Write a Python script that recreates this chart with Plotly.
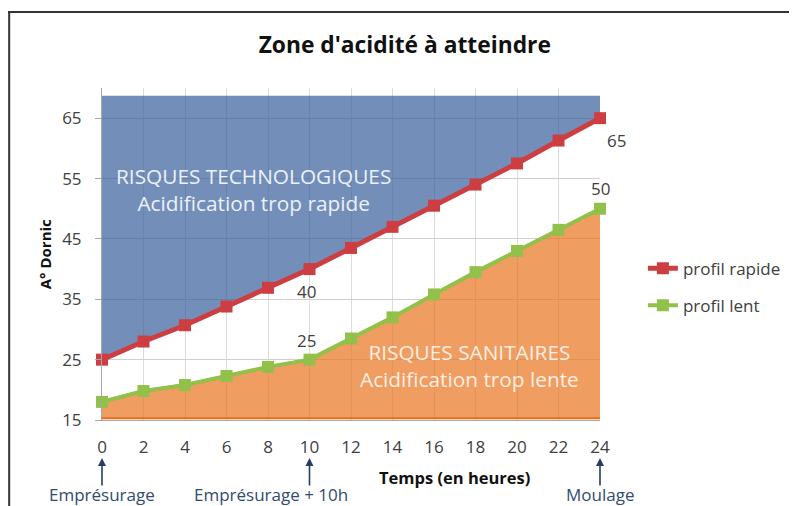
import plotly.graph_objects as go

# ---- data ----
heures = [0, 2, 4, 6, 8, 10, 12, 14, 16, 18, 20, 22, 24]
profil_rapide = [25, 28, 30.7, 33.8, 36.9, 40, 43.5, 47, 50.5, 54, 57.5, 61.3, 65]
profil_lent = [18, 19.8, 20.8, 22.3, 23.8, 25, 28.5, 32, 35.8, 39.5, 43, 46.5, 50]
zone_haut = [68.7] * 13
zone_bas = [15.3] * 13
y_ticks = [15, 25, 35, 45, 55, 65]
x_ticks = heures
reperes = [(0, "Emprésurage"), (10, "Emprésurage + 10h"), (24, "Moulage")]

FONT = "Open Sans"
RED = "rgb(205,62,66)"
GREEN = "rgb(145,192,75)"
NAVY = "rgb(40,60,100)"

fig = go.Figure()

# blue zone (risques technologiques)
fig.add_trace(go.Scatter(x=heures, y=profil_rapide, mode="lines", line=dict(width=0),
                         showlegend=False, hoverinfo="skip"))
fig.add_trace(go.Scatter(x=heures, y=zone_haut, mode="lines", line=dict(width=0),
                         fill="tonexty", fillcolor="rgba(55,95,155,0.7)",
                         showlegend=False, hoverinfo="skip"))
# orange zone (risques sanitaires)
fig.add_trace(go.Scatter(x=heures, y=zone_bas, mode="lines",
                         line=dict(width=2, color="rgb(228,110,20)"),
                         showlegend=False, hoverinfo="skip"))
fig.add_trace(go.Scatter(x=heures, y=profil_lent, mode="lines",
                         line=dict(width=3, color="rgb(228,110,20)"),
                         fill="tonexty", fillcolor="rgba(232,115,30,0.7)",
                         showlegend=False, hoverinfo="skip"))

# profiles
fig.add_trace(go.Scatter(x=heures, y=profil_rapide, mode="lines+markers", name="profil rapide",
                         line=dict(width=5, color=RED),
                         marker=dict(symbol="square", size=12, color=RED),
                         cliponaxis=False, legendgroup="a"))
fig.add_trace(go.Scatter(x=heures, y=profil_lent, mode="lines+markers", name="profil lent",
                         line=dict(width=4, color=GREEN),
                         marker=dict(symbol="square", size=12, color=GREEN),
                         cliponaxis=False, legendgroup="b"))

ann = []
# data labels
def lab(i, series, txt, xs, ys):
    ann.append(dict(x=heures[i], y=series[i], text=txt, showarrow=False, xshift=xs, yshift=ys,
                    font=dict(family=FONT, size=17, color="#404040")))
lab(12, profil_rapide, "65", 16, -22)
lab(5, profil_rapide, "40", -3, -22)
lab(5, profil_lent, "25", -3, 19)
lab(12, profil_lent, "50", 0, 20)

# zone texts
ann.append(dict(x=7.3, y=53.2, text="RISQUES TECHNOLOGIQUES<br>Acidification trop rapide",
                showarrow=False, font=dict(family=FONT, size=20.8, color="rgb(236,241,248)")))
ann.append(dict(x=17.7, y=24.1, text="RISQUES SANITAIRES<br>Acidification trop lente",
                showarrow=False, font=dict(family=FONT, size=20.8, color="rgb(253,238,226)")))

# arrows + labels below axis
label_x = {0: 0, 10: 8.13, 24: 24}
for h, t in reperes:
    ann.append(dict(x=h, y=-0.1145, xref="x", yref="paper", text="", showarrow=True,
                    ax=0, ay=29, arrowhead=2, arrowsize=1.0, arrowwidth=1.6,
                    arrowcolor=NAVY, standoff=0, startstandoff=0))
    ann.append(dict(x=label_x[h], y=-0.223, xref="x", yref="paper", text=t, showarrow=False,
                    yanchor="middle", xanchor="center",
                    font=dict(family=FONT, size=17, color="rgb(50,75,110)")))
# axis titles
ann.append(dict(x=16.98, y=-0.172, xref="x", yref="paper", text="<b>Temps (en heures)</b>",
                yanchor="middle", xanchor="center",
                showarrow=False, font=dict(family=FONT, size=16.5, color="#111")))
ann.append(dict(x=-0.114, y=0.5, xref="paper", yref="paper", text="<b>A° Dornic</b>",
                xanchor="center", yanchor="middle",
                textangle=-90, showarrow=False, font=dict(family=FONT, size=15, color="#111")))

# frame (figure starts 8px inside the page)
shapes = [
    dict(type="line", xref="paper", yref="paper", x0=-0.19, x1=1.5, y0=1.2289, y1=1.2289,
         line=dict(color="#333", width=2)),
    dict(type="line", xref="paper", yref="paper", x0=-0.1864, x1=-0.1864, y0=-0.4, y1=1.2289,
         line=dict(color="#333", width=2)),
]

fig.update_layout(
    width=789, height=498,
    margin=dict(l=94, r=196, t=80, b=86),
    paper_bgcolor="white", plot_bgcolor="white",
    font=dict(family=FONT, color="#404040"),
    title=dict(text="<b>Zone d'acidité à atteindre</b>", xref="paper", x=0.608, xanchor="center",
               yref="container", y=1 - 37 / 498, yanchor="middle",
               font=dict(family=FONT, size=22.8, color="#111")),
    xaxis=dict(range=[0, 24], tickvals=x_ticks, ticktext=[str(v) for v in x_ticks],
               showgrid=True, gridcolor="#dcdcdc", gridwidth=1, zeroline=False,
               showline=True, linecolor="#a6a6a6", ticks="", ticklabelstandoff=12,
               tickfont=dict(family=FONT, size=17, color="#404040")),
    yaxis=dict(range=[15, 70], tickvals=y_ticks,
               showgrid=True, gridcolor="#cfcfcf", gridwidth=1, zeroline=False,
               showline=True, linecolor="#a6a6a6", ticks="outside", ticklen=6, tickcolor="#a6a6a6",
               ticklabelstandoff=10, tickfont=dict(family=FONT, size=17, color="#404040")),
    legend=dict(x=1.084, xanchor="left", y=0.51, yanchor="top", traceorder="grouped",
                tracegroupgap=12, font=dict(family=FONT, size=17, color="#404040"),
                bgcolor="rgba(0,0,0,0)"),
    annotations=ann, shapes=shapes,
)

fig.write_html("out.html")
